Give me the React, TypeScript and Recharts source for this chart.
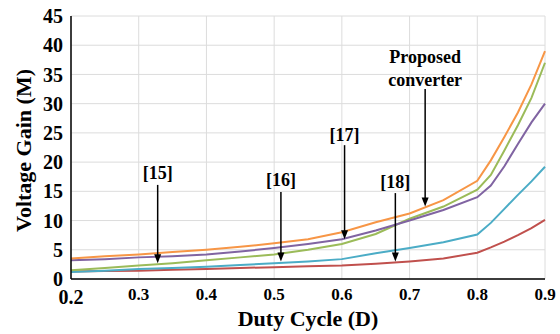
import React from "react";
import {
  LineChart,
  Line,
  XAxis,
  YAxis,
  CartesianGrid,
  ReferenceLine,
  ReferenceDot,
  Label,
} from "recharts";

const FONT = "'Liberation Serif', 'Times New Roman', serif";

// duty cycle samples
const duty = [
  0.2, 0.25, 0.3, 0.35, 0.4, 0.45, 0.5, 0.55, 0.6, 0.65, 0.7, 0.75, 0.8, 0.82,
  0.84, 0.86, 0.88, 0.9,
];

// voltage gain of each converter
const proposed = [
  3.5, 3.9, 4.2, 4.6, 5.0, 5.5, 6.1, 6.8, 8.0, 9.7, 11.2, 13.5, 16.8, 20.3,
  24.3, 28.5, 33.3, 39,
];
const ref15 = [
  1.5, 1.9, 2.3, 2.7, 3.2, 3.7, 4.2, 5.0, 6.0, 7.7, 10.3, 12.4, 15.3, 17.8, 22,
  26.3, 31, 37,
];
const ref16 = [
  1.2, 1.4, 1.7, 1.9, 2.1, 2.4, 2.7, 3.0, 3.4, 4.4, 5.3, 6.3, 7.6, 9.6, 12.0,
  14.4, 16.7, 19.2,
];
const ref17 = [
  3.2, 3.4, 3.7, 3.9, 4.2, 4.7, 5.3, 6.0, 6.8, 8.3, 10.0, 11.8, 14.0, 16.0,
  19.3, 23.1, 26.8, 30,
];
const ref18 = [
  1.3, 1.35, 1.4, 1.6, 1.7, 1.9, 2.0, 2.2, 2.3, 2.6, 3.0, 3.5, 4.5, 5.4, 6.4,
  7.5, 8.7, 10.1,
];

const xTicks = [0.2, 0.3, 0.4, 0.5, 0.6, 0.7, 0.8, 0.9];
const yTicks = [0, 5, 10, 15, 20, 25, 30, 35, 40, 45];

// arrow annotations: label lines, x, text centre y, arrow top, arrow tip
const notes = [
  { text: ["[15]"], x: 0.328, textY: 18.1, top: 16.1, tip: 2.7 },
  { text: ["[16]"], x: 0.51, textY: 16.9, top: 14.9, tip: 3.0 },
  { text: ["[17]"], x: 0.604, textY: 24.7, top: 22.9, tip: 6.8 },
  { text: ["[18]"], x: 0.679, textY: 16.6, top: 14.7, tip: 3.0 },
  { text: ["Proposed", "converter"], x: 0.723, textY: 36.1, top: 32.5, tip: 12.4 },
];

const data = duty.map((d, i) => ({
  d,
  proposed: proposed[i],
  ref15: ref15[i],
  ref16: ref16[i],
  ref17: ref17[i],
  ref18: ref18[i],
}));

const W = 560;
const H = 334;
const TOP = 16;
const X_AXIS_H = 55;
const Y_AXIS_W = 71;

const XTick = (props: any) => {
  const { x, y, payload } = props;
  const first = payload.value === 0.2;
  return (
    <text
      x={x}
      y={y + (first ? 17 : 13)}
      textAnchor="middle"
      fontFamily={FONT}
      fontWeight="bold"
      fontSize={first ? 20 : 17}
      fill="#000"
    >
      {Number(payload.value).toFixed(1)}
    </text>
  );
};

const arrowShape = (p: any) => {
  const { x1, y1, x2, y2 } = p;
  return (
    <g>
      <line x1={x1} y1={y1} x2={x2} y2={y2 - 7} stroke="#000" strokeWidth={1.5} />
      <polygon
        points={`${x2 - 3.5},${y2 - 9} ${x2 + 3.5},${y2 - 9} ${x2},${y2}`}
        fill="#000"
      />
    </g>
  );
};

const textShape = (lines: string[]) => (p: any) => {
  const { cx, cy } = p;
  const lh = 23;
  const start = cy - ((lines.length - 1) * lh) / 2 + 6;
  return (
    <text
      textAnchor="middle"
      fontFamily={FONT}
      fontWeight="bold"
      fontSize={18}
      fill="#000"
    >
      {lines.map((l, i) => (
        <tspan key={l} x={cx} y={start + i * lh}>
          {l}
        </tspan>
      ))}
    </text>
  );
};

const YTitle = () => {
  const cy = TOP + (H - TOP - X_AXIS_H) / 2 + 3;
  return (
    <text
      transform={`translate(31, ${cy}) rotate(-90)`}
      textAnchor="middle"
      fontFamily={FONT}
      fontWeight="bold"
      fontSize={22}
      fill="#000"
    >
      Voltage Gain (M)
    </text>
  );
};

export default function App() {
  return (
    <div style={{ position: "absolute", left: 0, top: 0 }}>
      <LineChart
        width={W}
        height={H}
        data={data}
        margin={{ top: TOP, right: 15, bottom: 0, left: 0 }}
      >
        <CartesianGrid stroke="#dcdcdc" strokeWidth={1} />
        <XAxis
          dataKey="d"
          type="number"
          domain={[0.2, 0.9]}
          ticks={xTicks}
          height={X_AXIS_H}
          tickLine={false}
          axisLine={{ stroke: "#000", strokeWidth: 1.5 }}
          tick={<XTick />}
          interval={0}
        >
          <Label
            value="Duty Cycle (D)"
            position="insideBottom"
            offset={8}
            style={{
              fontFamily: FONT,
              fontWeight: "bold",
              fontSize: 22,
              fill: "#000",
            }}
          />
        </XAxis>
        <YAxis
          type="number"
          domain={[0, 45]}
          ticks={yTicks}
          width={Y_AXIS_W}
          tickLine={false}
          axisLine={{ stroke: "#000", strokeWidth: 1.5 }}
          interval={0}
          tick={{
            fontFamily: FONT,
            fontWeight: "bold",
            fontSize: 20,
            fill: "#000",
          }}
        >
          <Label content={<YTitle />} />
        </YAxis>
        <Line type="linear" dataKey="ref18" stroke="#C0504D" strokeWidth={2} dot={false} isAnimationActive={false} />
        <Line type="linear" dataKey="ref16" stroke="#4BACC6" strokeWidth={2} dot={false} isAnimationActive={false} />
        <Line type="linear" dataKey="ref15" stroke="#9BBB59" strokeWidth={2} dot={false} isAnimationActive={false} />
        <Line type="linear" dataKey="ref17" stroke="#8064A2" strokeWidth={2} dot={false} isAnimationActive={false} />
        <Line type="linear" dataKey="proposed" stroke="#F79646" strokeWidth={2} dot={false} isAnimationActive={false} />
        {notes.map((n) => (
          <ReferenceLine
            key={"l" + n.text[0]}
            segment={[
              { x: n.x, y: n.top },
              { x: n.x, y: n.tip },
            ]}
            ifOverflow="visible"
            shape={arrowShape}
          />
        ))}
        {notes.map((n) => (
          <ReferenceDot
            key={"t" + n.text[0]}
            x={n.x}
            y={n.textY}
            r={0}
            ifOverflow="visible"
            shape={textShape(n.text)}
          />
        ))}
      </LineChart>
    </div>
  );
}
